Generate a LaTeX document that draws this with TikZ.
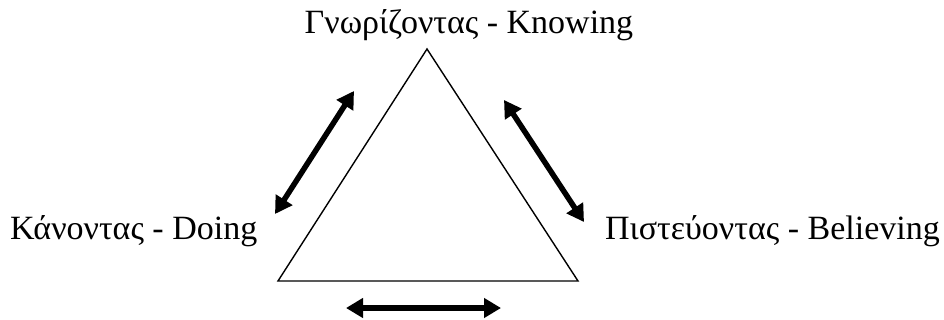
\documentclass[tikz,border=0pt]{standalone}
\usepackage{fontspec}
\setmainfont{Liberation Serif}
\usetikzlibrary{arrows.meta}
\begin{document}
\begin{tikzpicture}[x=1pt,y=-1pt,
  lbl/.style={inner sep=0pt,font=\fontsize{34}{38}\selectfont},
  tri/.style={draw=black,line width=1.4pt,line join=miter},
  dbl/.style={line width=5.5pt,{Triangle[length=17pt,width=19pt]}-{Triangle[length=17pt,width=19pt]}}]
\useasboundingbox (0,0) rectangle (944,320);
\coordinate (A) at (427,49);
\coordinate (B) at (278,281);
\coordinate (C) at (578,281);
\draw[tri] (A) -- (B) -- (C) -- cycle;
\node[lbl,anchor=base] (know) at (469,34) {Γνωρίζοντας - Knowing};
\node[lbl,anchor=base west] (do) at (10,240) {Κάνοντας - Doing};
\node[lbl,anchor=base east] (bel) at (940,240) {Πιστεύοντας - Believing};
\coordinate (l1) at (275,214);
\coordinate (l2) at (354,91);
\coordinate (r1) at (504,100);
\coordinate (r2) at (584,222);
\coordinate (b1) at (346,308);
\coordinate (b2) at (501,308);
\draw[dbl] (l1) -- (l2);
\draw[dbl] (r1) -- (r2);
\draw[dbl] (b1) -- (b2);
\end{tikzpicture}
\end{document}
